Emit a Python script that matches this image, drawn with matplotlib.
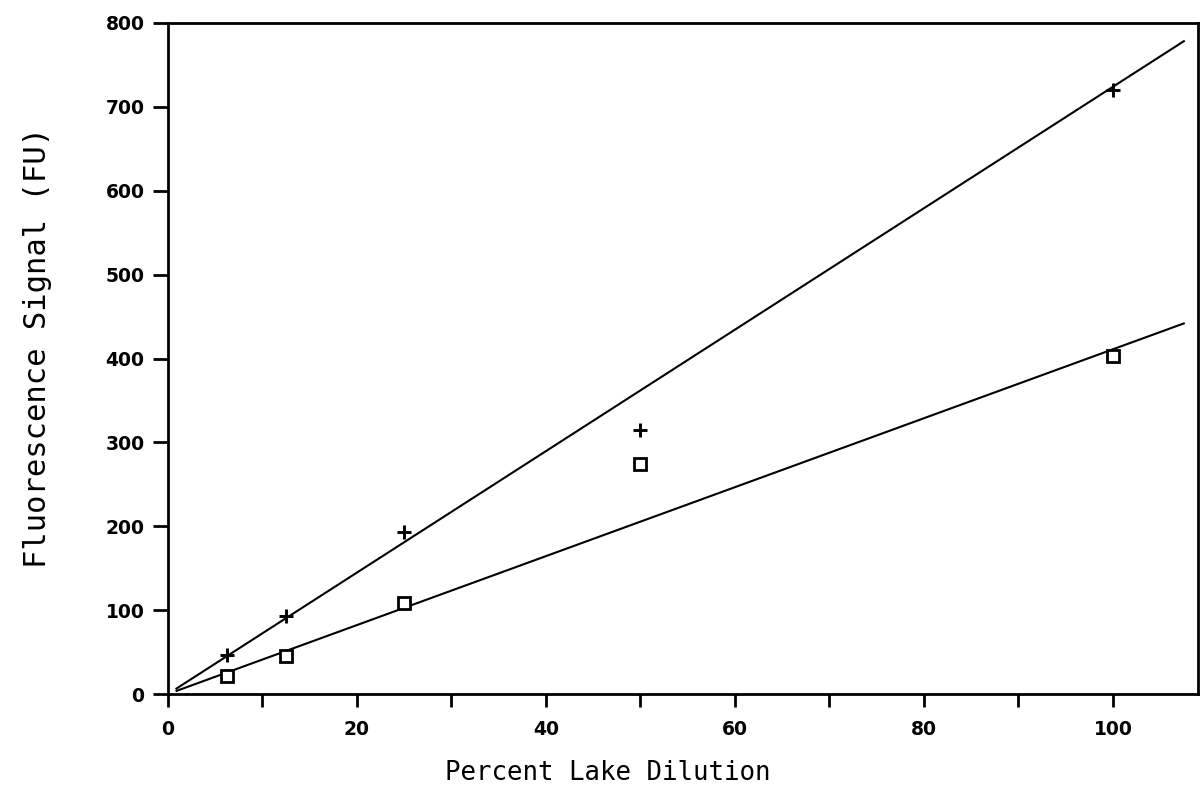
import matplotlib
matplotlib.use("Agg")
import matplotlib.pyplot as plt
import numpy as np

# Percent of lake water in each dilution
dilution = [6.25, 12.5, 25, 50, 100]
# Fluorescence readings (FU)
signal_plus = [47, 93, 193, 315, 720]
signal_square = [22, 45, 108, 274, 403]
# Slopes of the two calibration lines (FU per percent)
line_slopes = [7.24, 4.11]
line_x = [0.8, 107.6]

x_ticks = list(range(0, 101, 10))
x_labels = ["0", "", "20", "", "40", "", "60", "", "80", "", "100"]
y_ticks = list(range(0, 801, 100))

fig = plt.figure(figsize=(12.01, 7.96), dpi=100)
ax = fig.add_axes([168 / 1201, 102 / 796, (1198 - 168) / 1201, (694 - 23) / 796])

for s in line_slopes:
    xs = np.array(line_x)
    ax.plot(xs, s * xs, color="black", lw=1.5, solid_capstyle="butt")

ax.plot(dilution, signal_plus, linestyle="none", marker="+", ms=10.5,
        mew=2.1, color="black")
ax.plot(dilution, signal_square, linestyle="none", marker="s", ms=9,
        mew=2.0, mfc="white", mec="black")

ax.set_xlim(0, 109)
ax.set_ylim(0, 800)
ax.set_xticks(x_ticks)
ax.set_xticklabels(x_labels)
ax.set_yticks(y_ticks)

for sp in ax.spines.values():
    sp.set_linewidth(2.0)

ax.tick_params(axis="x", direction="out", length=9, width=2.0, pad=10)
ax.tick_params(axis="y", direction="out", length=11, width=2.0, pad=6)
for lab in ax.get_xticklabels() + ax.get_yticklabels():
    lab.set_fontfamily("DejaVu Sans")
    lab.set_fontweight("bold")
    lab.set_fontsize(13.5)

fig.text(608 / 1201, 1 - 773 / 796, "Percent Lake Dilution",
         family="DejaVu Sans Mono", fontsize=18.5, ha="center", va="center")
fig.text(38 / 1201, 1 - 347 / 796, "Fluorescence Signal (FU)",
         family="DejaVu Sans Mono", fontsize=22, ha="center", va="center",
         rotation=90)

fig.savefig("out.png", dpi=100, facecolor="white")
